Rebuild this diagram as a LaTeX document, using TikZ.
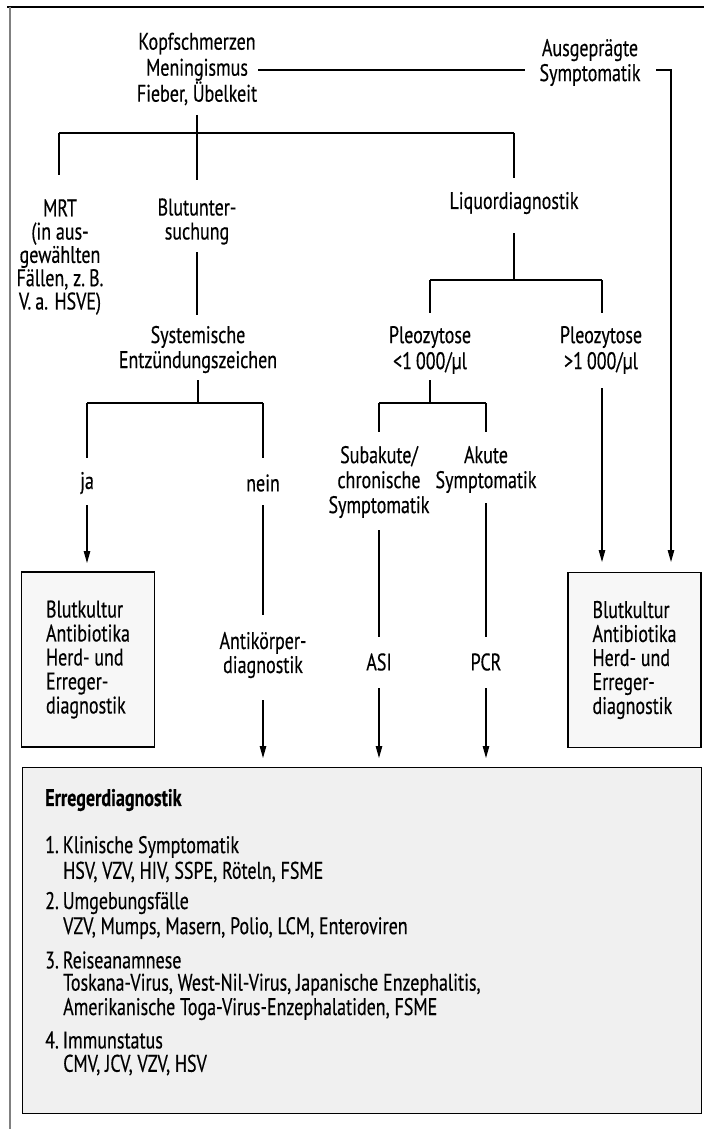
\documentclass[tikz,border=0pt]{standalone}
\usepackage{fontspec}
\setmainfont{PT Sans}[FakeStretch=0.75, FakeBold=0.4]
\usetikzlibrary{arrows.meta}
\begin{document}
\begin{tikzpicture}[x=1pt,y=-1pt,
  txt/.style={inner sep=0pt, align=center, font=\fontsize{24}{24}\selectfont},
  ltxt/.style={inner sep=0pt, anchor=west, font=\fontsize{24}{24}\selectfont},
  ln/.style={line width=1.1pt},
  bar/.style={line width=1.8pt},
  arr/.style={line width=1.1pt,-{Triangle[length=12pt,width=6.5pt]}},
  sbox/.style={draw, line width=1.1pt, fill=gray!6, inner sep=0pt, align=left,
    minimum width=133pt, minimum height=175pt, font=\fontsize{24}{24}\selectfont},
  bbox/.style={draw, line width=1.1pt, fill=gray!12, inner sep=0pt, anchor=north west,
    minimum width=679pt, minimum height=346pt}]
\useasboundingbox (0,0) rectangle (704,1129);
% frame
\coordinate (fTL) at (7,7);
\coordinate (fTR) at (704,7);
\coordinate (fL) at (10,7);
\coordinate (fBL) at (10,1129);
\draw[line width=2.5pt] (fTL) -- (fTR);
\draw[line width=1.2pt, black!50] (fL) -- (fBL);

% text nodes
\node[txt, font=\fontsize{24}{26}\selectfont] (kopf) at (197,69) {Kopfschmerzen\\Meningismus\\Fieber, Übelkeit};
\node[txt, font=\fontsize{24}{25}\selectfont] (ausg) at (590,62.5) {Ausgeprägte\\Symptomatik};
\node[txt, font=\fontsize{24}{23.3}\selectfont] (mrt) at (60,257) {MRT\\(in aus-\\gewählten\\Fällen, z.\,B.\\V.\,a. HSVE)};
\node[txt] (blut) at (197,221.5) {Blutunter-\\suchung};
\node[txt] (liquor) at (514,203) {Liquordiagnostik};
\node[txt, font=\fontsize{24}{25}\selectfont] (syst) at (198,349.5) {Systemische\\Entzündungszeichen};
\node[txt, font=\fontsize{24}{26}\selectfont] (pleoA) at (430,350) {Pleozytose\\<1\,000/µl};
\node[txt, font=\fontsize{24}{26}\selectfont] (pleoB) at (601,350) {Pleozytose\\>1\,000/µl};
\node[txt] (ja) at (87,483) {ja};
\node[txt] (nein) at (263,483) {nein};
\node[txt, font=\fontsize{24}{25}\selectfont] (sub) at (379,482) {Subakute/\\chronische\\Symptomatik};
\node[txt, font=\fontsize{24}{25}\selectfont] (akut) at (486,469.5) {Akute\\Symptomatik};
\node[txt] (anti) at (263,655) {Antikörper-\\diagnostik};
\node[txt] (asi) at (379,662) {ASI};
\node[txt] (pcr) at (486,662) {PCR};
\node[sbox] (lbox) at (88,659.5) {Blutkultur\\Antibiotika\\Herd- und\\Erreger-\\diagnostik};
\node[sbox] (rbox) at (634.5,660) {Blutkultur\\Antibiotika\\Herd- und\\Erreger-\\diagnostik};

% big box
\node[bbox] (erreger) at (22,767) {};
\node[ltxt, font=\fontsize{24}{24}\selectfont\bfseries] (eTitle) at (45,800) {Erregerdiagnostik};
\node[ltxt] (e1) at (45,847) {1.\,Klinische Symptomatik};
\node[ltxt] (e1a) at (63,872) {HSV, VZV, HIV, SSPE, Röteln, FSME};
\node[ltxt] (e2) at (45,903) {2.\,Umgebungsfälle};
\node[ltxt] (e2a) at (63,928) {VZV, Mumps, Masern, Polio, LCM, Enteroviren};
\node[ltxt] (e3) at (45,960) {3.\,Reiseanamnese};
\node[ltxt] (e3a) at (63,984.5) {Toskana-Virus, West-Nil-Virus, Japanische Enzephalitis,};
\node[ltxt] (e3b) at (63,1009) {Amerikanische Toga-Virus-Enzephalatiden, FSME};
\node[ltxt] (e4) at (45,1040) {4.\,Immunstatus};
\node[ltxt] (e4a) at (63,1065) {CMV, JCV, VZV, HSV};

% junction coordinates
\coordinate (kS) at (197,115);
\coordinate (k1) at (197,133);
\coordinate (k1L) at (59,133);
\coordinate (k1R) at (514,133);
\coordinate (mrtN) at (59,175);
\coordinate (blutN) at (197,180);
\coordinate (liqN) at (514,178);
\coordinate (kE) at (258,70);
\coordinate (aW) at (525,70);
\coordinate (aE) at (656,70);
\coordinate (hook) at (671,70);
\coordinate (rboxT2) at (671,562);
\coordinate (blutS) at (197,252);
\coordinate (systN) at (197,315);
\coordinate (sS) at (198,380);
\coordinate (s1) at (198,403);
\coordinate (s1L) at (87,403);
\coordinate (s1R) at (263,403);
\coordinate (jaN) at (87,458);
\coordinate (neinN) at (263,458);
\coordinate (jaS) at (87,505);
\coordinate (lboxN) at (87,563);
\coordinate (neinS) at (263,505);
\coordinate (antiN) at (263,615);
\coordinate (antiS) at (263,700);
\coordinate (eN1) at (263,758);
\coordinate (liqS) at (514,233);
\coordinate (l1) at (514,280);
\coordinate (l1L) at (430,280);
\coordinate (l1R) at (602,280);
\coordinate (pAN) at (430,313);
\coordinate (pBN) at (602,313);
\coordinate (pAS) at (430,380);
\coordinate (p1) at (430,403);
\coordinate (p1L) at (379,403);
\coordinate (p1R) at (486,403);
\coordinate (subN) at (379,432);
\coordinate (akutN) at (486,432);
\coordinate (pBS) at (602,388);
\coordinate (rboxT1) at (602,562);
\coordinate (subS) at (379,530);
\coordinate (asiN) at (379,637);
\coordinate (asiS) at (379,688);
\coordinate (eN2) at (379,758);
\coordinate (akutS) at (486,503);
\coordinate (pcrN) at (486,637);
\coordinate (pcrS) at (486,688);
\coordinate (eN3) at (486,758);

% connectors
\draw[ln] (kS) -- (k1);
\draw[bar] (k1L) -- (k1R);
\draw[ln] (k1L) -- (mrtN);
\draw[ln] (k1) -- (blutN);
\draw[ln] (k1R) -- (liqN);
\draw[ln] (kE) -- (aW);
\draw[arr] (aE) -- (hook) -- (rboxT2);
\draw[ln] (blutS) -- (systN);
\draw[ln] (sS) -- (s1);
\draw[bar] (s1L) -- (s1R);
\draw[ln] (s1L) -- (jaN);
\draw[ln] (s1R) -- (neinN);
\draw[arr] (jaS) -- (lboxN);
\draw[ln] (neinS) -- (antiN);
\draw[arr] (antiS) -- (eN1);
\draw[ln] (liqS) -- (l1);
\draw[bar] (l1L) -- (l1R);
\draw[ln] (l1L) -- (pAN);
\draw[ln] (l1R) -- (pBN);
\draw[ln] (pAS) -- (p1);
\draw[bar] (p1L) -- (p1R);
\draw[ln] (p1L) -- (subN);
\draw[ln] (p1R) -- (akutN);
\draw[arr] (pBS) -- (rboxT1);
\draw[ln] (subS) -- (asiN);
\draw[arr] (asiS) -- (eN2);
\draw[ln] (akutS) -- (pcrN);
\draw[arr] (pcrS) -- (eN3);
\end{tikzpicture}
\end{document}
